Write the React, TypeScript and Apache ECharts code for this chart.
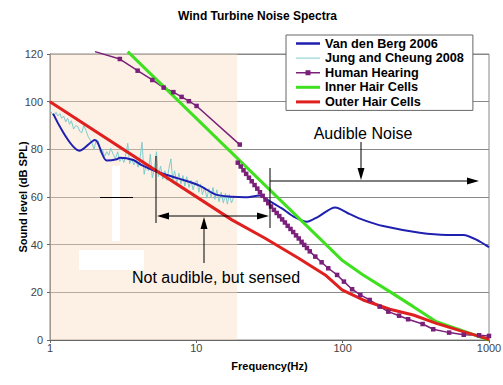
import React, { useEffect, useRef } from 'react';
import * as echarts from 'echarts';

const TITLE = 'Wind Turbine Noise Spectra';
const X_NAME = 'Frequency(Hz)';
const Y_NAME = 'Sound level (dB SPL)';
const SERIES_NAMES = ['Van den Berg 2006', 'Jung and Cheung 2008', 'Human Hearing', 'Inner Hair Cells', 'Outer Hair Cells'];
const X_RANGE = [1, 1000];
const Y_RANGE = [0, 120];
const Y_STEP = 20;
const SENSED_BAND = [1, 19];
const AUDIBLE_LABEL = 'Audible Noise';
const SENSED_LABEL = 'Not audible, but sensed';

const vanDenBerg: number[][] = [
  [1.05, 95], [1.6, 79.4], [2.03, 83.9], [2.44, 75.3], [2.86, 75.8], [3.0, 76.5], [3.71, 75.5],
  [4.23, 73.4], [5.4, 70.6], [7.5, 67.8], [10.5, 64.8], [13.6, 61], [17.5, 60.1], [21.5, 59.9],
  [27.2, 60.6], [29.5, 59.4], [38.4, 55.2], [46.2, 51.8], [56.9, 49.6], [68.3, 51.8], [88.8, 55.6],
  [112, 52.8], [138, 50.4], [189, 47.8], [336, 45], [514, 44.1], [668, 44.1], [866, 41.3], [1000, 38.9],
];

const jungCheung: number[][] = [
  [1.0, 96.5], [1.03, 95], [1.06, 94], [1.1, 95.5], [1.13, 94], [1.17, 95], [1.2, 93], [1.24, 94],
  [1.28, 91.5], [1.32, 93], [1.36, 90.5], [1.4, 92], [1.45, 88.5], [1.5, 90], [1.55, 89.5], [1.6, 87.5],
  [1.65, 87], [1.7, 90], [1.76, 88], [1.82, 85.5], [1.88, 84], [1.94, 82.5], [2.0, 80], [2.07, 84],
  [2.14, 83.5], [2.21, 78.5], [2.28, 80], [2.36, 77], [2.44, 79], [2.52, 77.5], [2.6, 80.5], [2.7, 78],
  [2.8, 76], [2.9, 79], [3.0, 75], [3.1, 76.5], [3.2, 74.5], [3.3, 78], [3.4, 82.5], [3.5, 74],
  [3.62, 76], [3.74, 73.5], [3.86, 75.5], [4.0, 72.5], [4.12, 76], [4.25, 83], [4.4, 69.5], [4.55, 74],
  [4.7, 71], [4.85, 78], [5.0, 68], [5.17, 72], [5.34, 79], [5.5, 68.5], [5.7, 73], [5.9, 67.5],
  [6.1, 71], [6.3, 67], [6.5, 72], [6.7, 76], [6.9, 67], [7.1, 71], [7.35, 66], [7.6, 70],
  [7.85, 65.5], [8.1, 69], [8.35, 64.5], [8.6, 68.5], [8.9, 64], [9.2, 67], [9.5, 63], [9.8, 66],
  [10.1, 67], [10.4, 62], [10.7, 65.5], [11.0, 61], [11.4, 64], [11.8, 59.5], [12.2, 63.5], [12.6, 60],
  [13.0, 64], [13.4, 59], [13.8, 63], [14.3, 58], [14.8, 62], [15.3, 57.5], [15.8, 61.5], [16.3, 57],
  [16.8, 61], [17.4, 57.5], [18.0, 60],
];

const humanHearingUpper: number[][] = [
  [2.03, 121], [3.0, 117.9], [3.97, 113], [5.0, 109.1], [5.98, 105.9], [6.97, 104], [7.93, 102],
  [8.9, 100.2], [10.04, 98.2], [19.8, 82],
];

const humanHearingLower: number[][] = [
  [19.2, 74.4], [20.1, 72.8], [21.0, 71.2], [21.9, 69.7], [22.9, 68.1], [23.9, 66.6], [25.0, 65.0],
  [26.1, 63.5], [27.2, 62.0], [28.4, 60.5], [29.7, 58.9], [31.0, 57.4], [32.4, 56.0], [33.9, 54.6],
  [35.4, 53.3], [36.9, 52.0], [38.6, 50.6], [40.3, 49.3], [42.1, 47.9], [44.0, 46.6], [45.9, 45.3],
  [48.0, 43.9], [50.1, 42.6], [52.4, 41.2], [54.6, 39.9], [57.0, 38.6], [59.6, 37.2], [65, 35],
  [71.8, 32.6], [79.7, 30.1], [91.6, 27.3], [102, 24.5], [116, 21.3], [132, 18.9], [153, 16.8],
  [179, 14], [205, 11.9], [243, 10.2], [280, 8.7], [352, 6.7], [416, 4.5], [534, 3.1], [672, 2.2],
  [855, 2.0], [1000, 1.7],
];

const innerHairCells: number[][] = [
  [3.4, 121], [98.5, 33.6], [138, 27.3], [210, 20.3], [304, 14], [437, 7.7], [1000, 0],
];

const outerHairCells: number[][] = [
  [1, 100], [17.5, 50.4], [29.5, 42.7], [50, 34.3], [76, 27.3], [99, 21], [138, 16.8], [210, 12.9],
  [304, 10.5], [437, 7], [667, 3.5], [956, 0.7], [1000, 0],
];

const COLORS = {
  blue: '#1f1fb0',
  cyan: '#7fcccc',
  purple: '#7a1f7a',
  green: '#3fe01f',
  red: '#e0201f',
};

const FONT = '"Liberation Sans", Arial, sans-serif';

const ICON_THICK = 'path://M0,0H24V3H0Z';
const ICON_MED = 'path://M0,0H24V2.5H0Z';
const ICON_THIN = 'path://M0,0H24V1H0Z';
const ICON_MARK = 'path://M0,1.75H9.5V0H14.5V1.75H24V3.25H14.5V5H9.5V3.25H0Z';

function arrowHead(tx: number, ty: number, dir: 'l' | 'r' | 'u' | 'd', len = 12, half = 3.5) {
  let pts: number[][];
  if (dir === 'r') pts = [[tx, ty], [tx - len, ty - half], [tx - len, ty + half]];
  else if (dir === 'l') pts = [[tx, ty], [tx + len, ty - half], [tx + len, ty + half]];
  else if (dir === 'u') pts = [[tx, ty], [tx - half, ty + len], [tx + half, ty + len]];
  else pts = [[tx, ty], [tx - half, ty - len], [tx + half, ty - len]];
  return { type: 'polygon', z: 20, shape: { points: pts }, style: { fill: '#000' } };
}

function seg(x1: number, y1: number, x2: number, y2: number) {
  return { type: 'line', z: 20, shape: { x1, y1, x2, y2 }, style: { stroke: '#000', lineWidth: 1 } };
}

export default function App() {
  const ref = useRef<HTMLDivElement>(null);
  useEffect(() => {
    if (!ref.current) return;
    const chart = echarts.init(ref.current, undefined, { renderer: 'svg' });

    const hh: any[] = humanHearingUpper.map((p, i) => (i === 0 ? { value: p, symbol: 'none' } : p));
    hh.push([19.5, '-']);
    humanHearingLower.forEach((p) => hh.push(p));

    const graphics: any[] = [
      { type: 'rect', z: 1, shape: { x: 112, y: 166, width: 8, height: 75 }, style: { fill: '#ffffff' } },
      { type: 'rect', z: 1, shape: { x: 79, y: 250, width: 65, height: 20 }, style: { fill: '#ffffff' } },
      seg(100, 197.5, 133, 197.5),
      seg(156, 156, 156, 223),
      seg(270, 168, 270, 228),
      seg(160, 216, 266, 216),
      arrowHead(157, 216, 'l'),
      arrowHead(269, 216, 'r'),
      seg(204, 263, 204, 222),
      arrowHead(204, 217, 'u'),
      seg(270, 181, 475, 181),
      arrowHead(479, 181, 'r'),
      seg(361, 142, 361, 175),
      arrowHead(361, 180, 'd'),
      {
        type: 'text', z: 20, x: 363, y: 133,
        style: { text: AUDIBLE_LABEL, font: `16px ${FONT}`, fill: '#000', align: 'center', verticalAlign: 'middle' },
      },
      {
        type: 'text', z: 20, x: 132, y: 277,
        style: { text: SENSED_LABEL, font: `16px ${FONT}`, fill: '#000', align: 'left', verticalAlign: 'middle' },
      },
    ];

    const icons = [ICON_MED, ICON_THIN, ICON_MARK, ICON_THICK, ICON_THICK];

    chart.setOption({
      animation: false,
      title: {
        text: TITLE, left: 173, top: 5,
        textStyle: { fontSize: 12, fontWeight: 'bold', fontFamily: FONT, color: '#000' },
      },
      legend: {
        data: SERIES_NAMES.map((name, i) => ({ name, icon: icons[i] })),
        orient: 'vertical',
        left: 286, top: 35,
        padding: [2, 9, 2, 10],
        itemGap: 1.6,
        itemWidth: 24, itemHeight: 13,
        backgroundColor: '#ffffff',
        borderColor: '#666', borderWidth: 1,
        itemStyle: { borderWidth: 0 },
        textStyle: { fontFamily: FONT, fontWeight: 'bold', fontSize: 12.7, color: '#000' },
        z: 10,
      },
      grid: {
        left: 50, right: 14, top: 54, bottom: 45, show: true, borderColor: '#888', borderWidth: 1,
        outerBoundsMode: 'none', containLabel: false,
      },
      xAxis: {
        type: 'log', logBase: 10, min: X_RANGE[0], max: X_RANGE[1],
        name: X_NAME, nameLocation: 'middle', nameGap: 20, nameMoveOverlap: false,
        nameTextStyle: { fontWeight: 'bold', fontSize: 11, fontFamily: FONT, color: '#000' },
        axisLine: { lineStyle: { color: '#666' } },
        axisTick: { show: true, length: 3, lineStyle: { color: '#666' } },
        axisLabel: { fontSize: 11, fontFamily: FONT, color: '#444', margin: 2, formatter: (v: number) => String(v) },
        splitLine: { show: false },
        minorTick: { show: false },
      },
      yAxis: {
        type: 'value', min: Y_RANGE[0], max: Y_RANGE[1], interval: Y_STEP,
        name: Y_NAME, nameLocation: 'middle', nameGap: 22, nameMoveOverlap: false,
        nameTextStyle: { fontWeight: 'bold', fontSize: 11, fontFamily: FONT, color: '#000' },
        axisLine: { show: true, lineStyle: { color: '#666' } },
        axisTick: { show: true, length: 3, lineStyle: { color: '#666' } },
        axisLabel: { fontSize: 11, fontFamily: FONT, color: '#444', margin: 7 },
        splitLine: { show: true, lineStyle: { color: '#888', width: 1 } },
      },
      graphic: graphics,
      series: [
        {
          name: SERIES_NAMES[1], type: 'line', data: jungCheung, symbol: 'none', clip: false,
          lineStyle: { color: COLORS.cyan, width: 1 }, itemStyle: { color: COLORS.cyan },
          markArea: {
            silent: true, z: 0.5,
            itemStyle: { color: 'rgba(251,222,195,0.42)' },
            data: [[{ xAxis: SENSED_BAND[0] }, { xAxis: SENSED_BAND[1] }]],
          },
        },
        {
          name: SERIES_NAMES[0], type: 'line', data: vanDenBerg, symbol: 'none', smooth: 0.3, clip: false,
          lineStyle: { color: COLORS.blue, width: 2 }, itemStyle: { color: COLORS.blue },
        },
        {
          name: SERIES_NAMES[2], type: 'line', data: hh, symbol: 'rect', symbolSize: 4.5, showAllSymbol: true,
          connectNulls: false, clip: false,
          lineStyle: { color: COLORS.purple, width: 1.5 }, itemStyle: { color: COLORS.purple },
        },
        {
          name: SERIES_NAMES[3], type: 'line', data: innerHairCells, symbol: 'none', clip: false,
          lineStyle: { color: COLORS.green, width: 3 }, itemStyle: { color: COLORS.green },
        },
        {
          name: SERIES_NAMES[4], type: 'line', data: outerHairCells, symbol: 'none', clip: false,
          lineStyle: { color: COLORS.red, width: 3 }, itemStyle: { color: COLORS.red },
        },
      ],
    });
    return () => chart.dispose();
  }, []);
  return <div ref={ref} style={{ position: 'absolute', left: 0, top: 0, width: 503, height: 385, background: '#fff' }} />;
}
